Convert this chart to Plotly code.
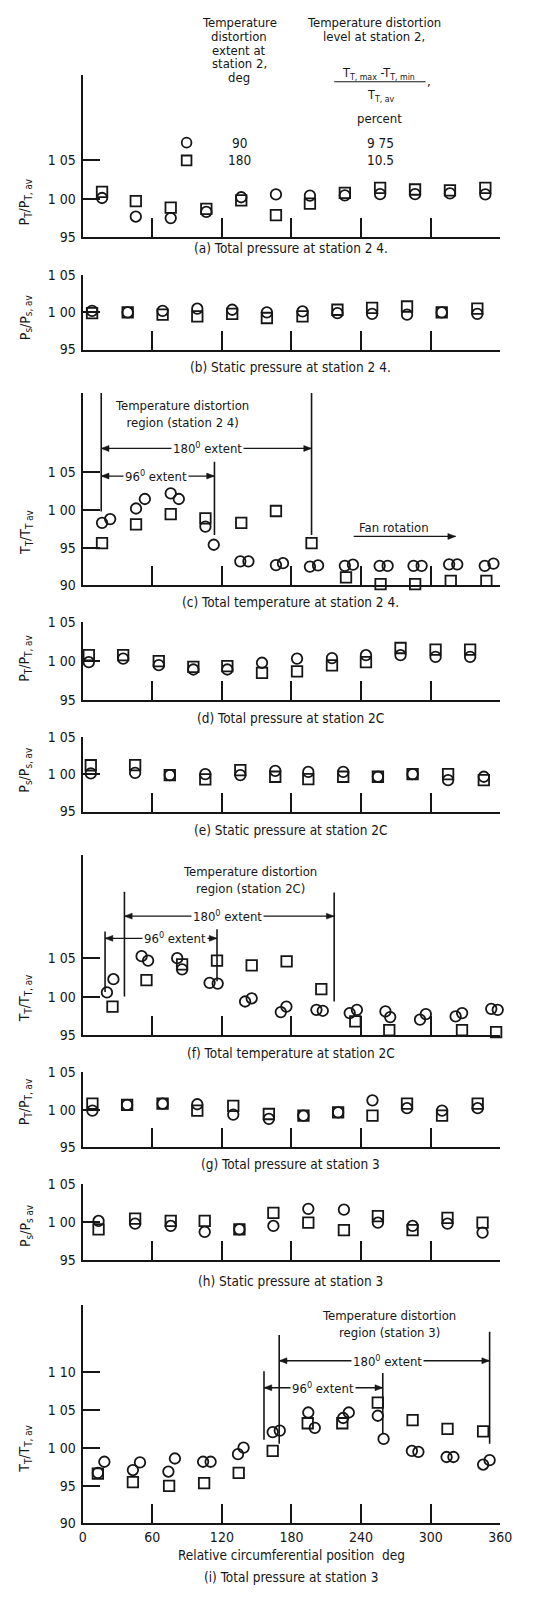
import plotly.graph_objects as go

W, H = 556, 1598
PLOT_L, PLOT_R = 81, 511
FONT = "Liberation Sans Narrow, DejaVu Sans Condensed, Arial Narrow, Liberation Sans, sans-serif"
INK = "#161616"

# ---------------- data ----------------
angle_ticks = [0, 60, 120, 180, 240, 300, 360]
ytick_text = {0.90: "90", 0.95: "95", 1.00: "1 00", 1.05: "1 05", 1.10: "1 10"}

# (a) total pressure station 2.4
pos_a = [16.7, 45.8, 75.9, 106.6, 136.7, 166.6, 195.9, 226, 256.4, 286.5, 316.6, 347.1]
a_circ = [1.001, 0.977, 0.975, 0.983, 1.002, 1.0056, 1.004, 1.0044, 1.006, 1.006, 1.007, 1.0056]
a_sq = [1.009, 0.997, 0.9885, 0.987, 0.998, 0.9787, 0.9936, 1.0077, 1.014, 1.012, 1.011, 1.014]

# (b) static pressure station 2.4
pos_b = [8.1, 38.8, 68.9, 98.8, 128.9, 158.8, 189.5, 219.6, 249.5, 279.6, 309.5, 340.2]
b_circ = [1.002, 1.000, 1.002, 1.005, 1.0036, 1.000, 1.0013, 0.999, 0.998, 0.997, 1.000, 0.998]
b_sq = [0.999, 1.000, 0.997, 0.9947, 0.998, 0.9925, 0.9947, 1.0036, 1.006, 1.008, 1.000, 1.005]

# (c) total temperature station 2.4
pos_c_sq = [16.7, 46, 75.9, 105.8, 136.7, 166.6, 197.3, 227, 256.8, 286.6, 317.3, 348]
c_sq = [0.956, 0.981, 0.9947, 0.989, 0.983, 0.9987, 0.956, 0.9106, 0.9017, 0.9017, 0.906, 0.906]
pos_c_c1 = [16.7, 46, 75.9, 105.8, 135.9, 166.6, 195.9, 226, 256, 285.2, 315.9, 346.6]
c_c1 = [0.983, 1.002, 1.022, 0.978, 0.932, 0.927, 0.925, 0.926, 0.926, 0.926, 0.928, 0.926]
pos_c_c2 = [23.7, 53.6, 82.9, 113, 142.9, 172.7, 202.9, 233, 262.9, 292.2, 322.9, 354.1]
c_c2 = [0.988, 1.0146, 1.0146, 0.954, 0.932, 0.9295, 0.9265, 0.9275, 0.926, 0.926, 0.928, 0.929]

# (d) total pressure station 2C
pos_d = [5.3, 34.9, 65.6, 95.4, 124.7, 154.6, 184.8, 214.9, 244.2, 274, 304.2, 334]
d_circ = [0.9987, 1.0034, 0.9949, 0.9893, 0.9893, 0.998, 1.0034, 1.004, 1.0077, 1.0077, 1.0055, 1.0055]
d_sq = [1.0077, 1.0077, 1.000, 0.9927, 0.9936, 0.985, 0.987, 0.9945, 0.9987, 1.017, 1.015, 1.015]

# (e) static pressure station 2C
pos_e = [7, 45.2, 75.1, 105.7, 135.9, 166, 194.5, 224.6, 254.5, 284.4, 315, 345.8]
e_circ = [1.001, 1.0017, 0.9987, 1.000, 0.9987, 1.0044, 1.003, 1.003, 0.9965, 1.000, 0.992, 0.9965]
e_sq = [1.0119, 1.012, 0.9987, 0.993, 1.0053, 0.9965, 0.9934, 0.9965, 0.9965, 1.000, 1.000, 0.992]

# (f) total temperature station 2C
pos_f_sq = [25.7, 55, 85.7, 115.8, 145.7, 175.8, 205.7, 235, 264.3, 295, 327, 356.4]
f_sq = [0.987, 1.0214, 1.042, 1.047, 1.0407, 1.046, 1.0098, 0.9678, 0.9562, 0.9485, 0.9562, 0.9536]
pos_f_c1 = [20.9, 50.8, 81.5, 109.4, 140, 170.8, 201.5, 230.2, 261, 290.8, 321.5, 352.2]
f_c1 = [1.0055, 1.0528, 1.0502, 1.018, 0.9936, 0.9798, 0.9827, 0.9785, 0.9807, 0.970, 0.9742, 0.984]
pos_f_c2 = [26.5, 56.4, 85.7, 116.4, 145.7, 175.6, 207, 236.4, 265.1, 295.8, 327.1, 357.8]
f_c2 = [1.0227, 1.047, 1.0356, 1.017, 0.9978, 0.987, 0.9815, 0.9827, 0.9733, 0.9772, 0.9785, 0.9827]

# (g) total pressure station 3
pos_g = [8.4, 38.3, 68.9, 98.8, 129.8, 160.5, 190.3, 220.2, 249.8, 279.6, 309.8, 340.5]
g_circ = [0.9987, 1.0065, 1.008, 1.0073, 0.9935, 0.9878, 0.992, 0.9965, 1.0125, 1.002, 0.9987, 1.002]
g_sq = [1.0082, 1.0065, 1.008, 0.9987, 1.005, 0.9943, 0.992, 0.9965, 0.992, 1.008, 0.992, 1.008]

# (h) static pressure station 3
pos_h = [13.7, 45.2, 75.9, 105.2, 135.1, 164.4, 194.5, 225.2, 254.5, 284.4, 314.5, 344.7]
h_circ = [1.001, 0.9974, 0.9944, 0.9866, 0.990, 0.9944, 1.017, 1.016, 0.9987, 0.9944, 0.9974, 0.9856]
h_sq = [0.990, 1.004, 1.001, 1.001, 0.990, 1.0118, 0.9987, 0.989, 1.0074, 0.989, 1.005, 0.9987]

# (i) total temperature station 3
pos_i_sq = [13.1, 43.3, 74.5, 104.7, 134.5, 163.8, 194, 223.8, 254.4, 284.4, 314.5, 345.2]
i_sq = [0.966, 0.9546, 0.9498, 0.9533, 0.967, 0.996, 1.0327, 1.0327, 1.060, 1.037, 1.0253, 1.022]
pos_i_c1 = [13.1, 43.3, 73.9, 103.8, 133.9, 163.8, 194.5, 224.5, 254.4, 283.8, 313.7, 345.2]
i_c1 = [0.967, 0.9707, 0.9687, 0.9817, 0.9917, 1.021, 1.047, 1.0397, 1.0427, 0.996, 0.988, 0.978]
pos_i_c2 = [18.7, 49.4, 79.5, 110.3, 138.7, 169.9, 200.1, 229.4, 259.4, 289.4, 319.6, 350.8]
i_c2 = [0.9817, 0.9808, 0.986, 0.9817, 1.0004, 1.023, 1.0266, 1.047, 1.012, 0.9948, 0.988, 0.9838]

# ---------------- layout of panels ----------------
panels = [
    dict(bottom=231.7, ppu=39.0, ymin=0.95, ymax=1.16, ticks=[0.95, 1.00, 1.05],
         title="P<sub>T</sub>/P<sub>T, av</sub>", tpx=196,
         cap="(a) Total pressure at station 2 4.", cpx=242,
         series=[(pos_a, a_circ, "c"), (pos_a, a_sq, "s")]),
    dict(bottom=345.0, ppu=37.5, ymin=0.95, ymax=1.05, ticks=[0.95, 1.00, 1.05],
         title="P<sub>s</sub>/P<sub>s, av</sub>", tpx=313,
         cap="(b) Static pressure at station 2 4.", cpx=363,
         series=[(pos_b, b_circ, "c"), (pos_b, b_sq, "s")]),
    dict(bottom=583.3, ppu=38.1, ymin=0.90, ymax=1.155, ticks=[0.90, 0.95, 1.00, 1.05],
         title="T<sub>T</sub>/T<sub>T av</sub>", tpx=530,
         cap="(c) Total temperature at station 2 4.", cpx=600,
         series=[(pos_c_c1, c_c1, "c"), (pos_c_c2, c_c2, "c"), (pos_c_sq, c_sq, "s")]),
    dict(bottom=699.0, ppu=39.2, ymin=0.95, ymax=1.05, ticks=[0.95, 1.00, 1.05],
         title="P<sub>T</sub>/P<sub>T, av</sub>", tpx=657,
         cap="(d) Total pressure at station 2C", cpx=717,
         series=[(pos_d, d_circ, "c"), (pos_d, d_sq, "s")]),
    dict(bottom=811.7, ppu=37.8, ymin=0.95, ymax=1.05, ticks=[0.95, 1.00, 1.05],
         title="P<sub>s</sub>/P<sub>s, av</sub>", tpx=770,
         cap="(e) Static pressure at station 2C", cpx=830,
         series=[(pos_e, e_circ, "c"), (pos_e, e_sq, "s")]),
    dict(bottom=1037.3, ppu=38.7, ymin=0.95, ymax=1.185, ticks=[0.95, 1.00, 1.05],
         title="T<sub>T</sub>/T<sub>T, av</sub>", tpx=1000,
         cap="(f) Total temperature at station 2C", cpx=1056,
         series=[(pos_f_c1, f_c1, "c"), (pos_f_c2, f_c2, "c"), (pos_f_sq, f_sq, "s")]),
    dict(bottom=1150.7, ppu=37.85, ymin=0.95, ymax=1.05, ticks=[0.95, 1.00, 1.05],
         title="P<sub>T</sub>/P<sub>T, av</sub>", tpx=1105,
         cap="(g) Total pressure at station 3", cpx=1168,
         series=[(pos_g, g_circ, "c"), (pos_g, g_sq, "s")]),
    dict(bottom=1264.3, ppu=38.3, ymin=0.95, ymax=1.05, ticks=[0.95, 1.00, 1.05],
         title="P<sub>s</sub>/P<sub>s av</sub>", tpx=1230,
         cap="(h) Static pressure at station 3", cpx=1286,
         series=[(pos_h, h_circ, "c"), (pos_h, h_sq, "s")]),
    dict(bottom=1530.7, ppu=38.1, ymin=0.90, ymax=1.19, ticks=[0.90, 0.95, 1.00, 1.05, 1.10],
         title="T<sub>T</sub>/T<sub>T, av</sub>", tpx=1455,
         cap="(i) Total pressure at station 3", cpx=1585,
         series=[(pos_i_c1, i_c1, "c"), (pos_i_c2, i_c2, "c"), (pos_i_sq, i_sq, "s")]),
]

regions = {
    3: dict(vlines=[(16, 0.998, 1.155), (113.6, 0.967, 1.064), (197.3, 0.967, 1.155)],
            arrows=[(16, 197.3, 108, 1.0816, "180<sup>0</sup> extent"),
                    (16, 113.6, 63, 1.045, "96<sup>0</sup> extent")],
            text=(85.7, 1.127, "Temperature distortion<br>region (station 2 4)")),
    6: dict(vlines=[(19.3, 1.006, 1.085), (36, 1.00, 1.137), (115.8, 1.02, 1.088), (216.8, 0.9936, 1.136)],
            arrows=[(36, 216.8, 124.7, 1.105, "180<sup>0</sup> extent"),
                    (19.3, 115.8, 80, 1.076, "96<sup>0</sup> extent")],
            text=(144, 1.152, "Temperature distortion<br>region (station 2C)")),
    9: dict(vlines=[(156.3, 1.011, 1.1016), (169.4, 1.0056, 1.1496), (258.7, 1.0187, 1.0995), (350.8, 1.0056, 1.154)],
            arrows=[(169.4, 350.8, 262.9, 1.1156, "180<sup>0</sup> extent"),
                    (156.3, 258.7, 207, 1.0798, "96<sup>0</sup> extent")],
            text=(264, 1.164, "Temperature distortion<br>region (station 3)")),
}

fig = go.Figure()
annotations = []
shapes = []


def tfont(size=13):
    return dict(family=FONT, size=size, color=INK)


def paper_ann(text, xpx, ypx, size=13, **kw):
    d = dict(text=text, x=xpx / W, y=1 - ypx / H, xref="paper", yref="paper", showarrow=False,
             font=tfont(size), xanchor="center", yanchor="middle")
    d.update(kw)
    return d


def arrow_shapes(xs, ys, ppu, x_tail, x_head, yv):
    """Line from tail to head plus a filled arrowhead at the head (data coords)."""
    dpp = 360.0 / (PLOT_R - PLOT_L)      # degrees per pixel
    vpp = 0.05 / ppu                      # value per pixel
    out = [dict(type="line", xref=xs, yref=ys, x0=x_tail, x1=x_head, y0=yv, y1=yv,
                line=dict(color=INK, width=1.3))]
    s = 1 if x_head > x_tail else -1
    bx = x_head - s * 8 * dpp
    path = f"M {x_head},{yv} L {bx},{yv + 3 * vpp} L {bx},{yv - 3 * vpp} Z"
    out.append(dict(type="path", xref=xs, yref=ys, path=path, fillcolor=INK,
                    line=dict(color=INK, width=0.5)))
    return out


layout_axes = {}
for n, p in enumerate(panels, start=1):
    top = p["bottom"] - (p["ymax"] - p["ymin"]) / 0.05 * p["ppu"]
    xs = "x" if n == 1 else f"x{n}"
    ys = "y" if n == 1 else f"y{n}"
    xk = "xaxis" if n == 1 else f"xaxis{n}"
    yk = "yaxis" if n == 1 else f"yaxis{n}"
    last = n == len(panels)
    tv = p["ticks"]
    layout_axes[yk] = dict(domain=[1 - p["bottom"] / H, 1 - top / H], range=[p["ymin"], p["ymax"]],
                           anchor=xs, showline=True, linewidth=2, linecolor=INK, ticks="inside",
                           ticklen=17, tickwidth=2, tickcolor=INK, showgrid=False, zeroline=False,
                           tickvals=tv, ticktext=[ytick_text[v] for v in tv], tickfont=tfont(14),
                           ticklabelstandoff=2, fixedrange=True)
    layout_axes[xk] = dict(domain=[PLOT_L / W, PLOT_R / W], range=[0, 360], anchor=ys, showline=True,
                           linewidth=2, linecolor=INK, ticks="inside", ticklen=19, tickwidth=2,
                           tickcolor=INK, showgrid=False, zeroline=False,
                           tickvals=angle_ticks if last else angle_ticks[1:],
                           showticklabels=last, tickfont=tfont(14), fixedrange=True)
    for xs_data, ys_data, kind in p["series"]:
        fig.add_trace(go.Scatter(
            x=xs_data, y=ys_data, xaxis=xs, yaxis=ys, mode="markers", showlegend=False,
            cliponaxis=False, hoverinfo="skip",
            marker=dict(symbol="circle-open" if kind == "c" else "square-open", size=10.5,
                        color=INK, line=dict(width=1.8, color=INK))))
    annotations.append(paper_ann(p["title"], 22, p["tpx"], 14, textangle=-90))
    annotations.append(paper_ann(p["cap"], 295, p["cpx"], 13.5))

    if n in regions:
        r = regions[n]
        for xv, y0, y1 in r["vlines"]:
            shapes.append(dict(type="line", xref=xs, yref=ys, x0=xv, x1=xv, y0=y0, y1=y1,
                               line=dict(color=INK, width=1.6)))
        for xa, xb, xc, yv, txt in r["arrows"]:
            shapes.extend(arrow_shapes(xs, ys, p["ppu"], xc, xa, yv))
            shapes.extend(arrow_shapes(xs, ys, p["ppu"], xc, xb, yv))
            annotations.append(dict(x=xc, y=yv, xref=xs, yref=ys, text=txt, showarrow=False,
                                    bgcolor="white", font=tfont(13), borderpad=1))
        tx, ty, tt = r["text"]
        annotations.append(dict(x=tx, y=ty, xref=xs, yref=ys, text=tt, showarrow=False,
                                font=tfont(13), align="center"))
        if n == 3:
            annotations.append(dict(x=268, y=0.977, xref=xs, yref=ys, text="Fan rotation",
                                    showarrow=False, font=tfont(13)))
            shapes.extend(arrow_shapes(xs, ys, p["ppu"], 233.6, 321.5, 0.965))

annotations.append(paper_ann("Relative circumferential position  deg", 296, 1563, 13.5))

# ---------------- key at the top ----------------
for txt, ypx in zip(["Temperature", "distortion", "extent at", "station 2,", "deg"],
                    [15, 28.5, 42.5, 56, 70]):
    annotations.append(paper_ann(txt, 242, ypx, 13))
annotations.append(paper_ann("Temperature distortion", 381, 15, 13))
annotations.append(paper_ann("level at station 2,", 381, 28.5, 13))
annotations.append(paper_ann("T<sub>T, max</sub> -T<sub>T, min</sub>", 386, 66, 12.5))
annotations.append(paper_ann(",", 438, 74, 13))
annotations.append(paper_ann("T<sub>T, av</sub>", 388, 88, 12.5))
annotations.append(paper_ann("percent", 387, 111.5, 13))
shapes.append(dict(type="line", xref="paper", yref="paper", x0=340 / W, x1=434 / W,
                   y0=1 - 74.5 / H, y1=1 - 74.5 / H, line=dict(color=INK, width=1.2)))

key_rows = [("c", "90", "9 75", 136), ("s", "180", "10.5", 154)]
for kind, ext, lev, ypx in key_rows:
    shapes.append(dict(type="circle" if kind == "c" else "rect", xref="paper", yref="paper",
                       x0=(188 - 5) / W, x1=(188 + 5) / W, y0=1 - (ypx + 5) / H, y1=1 - (ypx - 5) / H,
                       line=dict(color=INK, width=1.8)))
    annotations.append(paper_ann(ext, 242, ypx, 13.5))
    annotations.append(paper_ann(lev, 388, ypx, 13.5))

fig.update_layout(width=W, height=H, margin=dict(l=0, r=0, t=0, b=0), paper_bgcolor="white",
                  plot_bgcolor="white", showlegend=False, annotations=annotations, shapes=shapes,
                  font=tfont(13), **layout_axes)

fig.write_html("out.html")
